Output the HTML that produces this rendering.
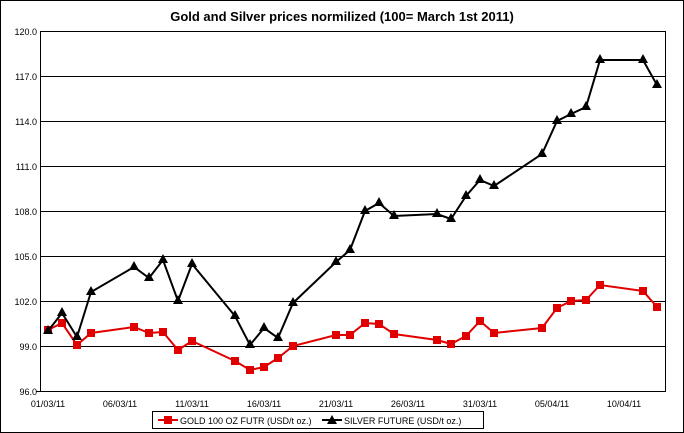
<!DOCTYPE html>
<html><head><meta charset="utf-8"><style>
body{margin:0;background:#fff;}
svg{display:block;font-family:"Liberation Sans",Arial,sans-serif;}
</style></head><body>
<svg width="684" height="433" viewBox="0 0 684 433" xmlns="http://www.w3.org/2000/svg">
<rect x="0.5" y="0.5" width="683" height="432" fill="#fff" stroke="#000"/>
<text x="342" y="21" text-anchor="middle" font-size="13" font-weight="bold">Gold and Silver prices normilized (100= March 1st 2011)</text>
<g stroke="#000" stroke-width="1">
<line x1="40" y1="31.5" x2="666" y2="31.5"/>
<line x1="40" y1="76.5" x2="666" y2="76.5"/>
<line x1="40" y1="121.5" x2="666" y2="121.5"/>
<line x1="40" y1="166.5" x2="666" y2="166.5"/>
<line x1="40" y1="211.5" x2="666" y2="211.5"/>
<line x1="40" y1="256.5" x2="666" y2="256.5"/>
<line x1="40" y1="301.5" x2="666" y2="301.5"/>
<line x1="40" y1="346.5" x2="666" y2="346.5"/>
<rect x="40.5" y="31.5" width="625" height="360" fill="none"/>
<line x1="36" y1="391.5" x2="40" y2="391.5"/>
</g>
<g font-size="9" text-anchor="end" fill="#000">
<text x="37" y="35">120.0</text><text x="37" y="80">117.0</text><text x="37" y="125">114.0</text>
<text x="37" y="170">111.0</text><text x="37" y="215">108.0</text><text x="37" y="260">105.0</text>
<text x="37" y="305">102.0</text><text x="37" y="350">99.0</text><text x="37" y="395">96.0</text>
</g>
<g font-size="9" text-anchor="middle" fill="#000">
<text x="48" y="407">01/03/11</text><text x="120" y="407">06/03/11</text><text x="192" y="407">11/03/11</text>
<text x="264" y="407">16/03/11</text><text x="336" y="407">21/03/11</text><text x="408" y="407">26/03/11</text>
<text x="480" y="407">31/03/11</text><text x="552" y="407">05/04/11</text><text x="624" y="407">10/04/11</text>
</g>
<polyline fill="none" stroke="#e00000" stroke-width="2" points="48,330 62,323 77,345 91,333 134,327 149,333 163,332 178,350 192,341 235,361 250,370 264,367 278,358 293,346 336,335 350,335 365,323 379,324 394,334 437,340 451,344 466,336 480,321 494,333 542,328 557,308 571,301 586,300 600,285 643,291 657,307"/>
<g fill="#e00000">
<rect x="44" y="326" width="8" height="8"/><rect x="58" y="319" width="8" height="8"/><rect x="73" y="341" width="8" height="8"/><rect x="87" y="329" width="8" height="8"/><rect x="130" y="323" width="8" height="8"/><rect x="145" y="329" width="8" height="8"/><rect x="159" y="328" width="8" height="8"/><rect x="174" y="346" width="8" height="8"/><rect x="188" y="337" width="8" height="8"/><rect x="231" y="357" width="8" height="8"/><rect x="246" y="366" width="8" height="8"/><rect x="260" y="363" width="8" height="8"/><rect x="274" y="354" width="8" height="8"/><rect x="289" y="342" width="8" height="8"/><rect x="332" y="331" width="8" height="8"/><rect x="346" y="331" width="8" height="8"/><rect x="361" y="319" width="8" height="8"/><rect x="375" y="320" width="8" height="8"/><rect x="390" y="330" width="8" height="8"/><rect x="433" y="336" width="8" height="8"/><rect x="447" y="340" width="8" height="8"/><rect x="462" y="332" width="8" height="8"/><rect x="476" y="317" width="8" height="8"/><rect x="490" y="329" width="8" height="8"/><rect x="538" y="324" width="8" height="8"/><rect x="553" y="304" width="8" height="8"/><rect x="567" y="297" width="8" height="8"/><rect x="582" y="296" width="8" height="8"/><rect x="596" y="281" width="8" height="8"/><rect x="639" y="287" width="8" height="8"/><rect x="653" y="303" width="8" height="8"/>
</g>
<polyline id="s" fill="none" stroke="#000" stroke-width="2" points="48,331 62,313 77,337 91,292 134,267 149,278 163,260 178,301 192,264 235,316 250,345 264,328 278,338 293,303 336,262 350,250 365,211 379,203 394,216 437,214 451,219 466,196 480,180 494,186 542,154 557,121 571,114 586,107 600,60 643,60 657,85"/>
<g fill="#000">
<path d="M48,325l-5,9h10z M62,307l-5,9h10z M77,331l-5,9h10z M91,286l-5,9h10z M134,261l-5,9h10z M149,272l-5,9h10z M163,254l-5,9h10z M178,295l-5,9h10z M192,258l-5,9h10z M235,310l-5,9h10z M250,339l-5,9h10z M264,322l-5,9h10z M278,332l-5,9h10z M293,297l-5,9h10z M336,256l-5,9h10z M350,244l-5,9h10z M365,205l-5,9h10z M379,197l-5,9h10z M394,210l-5,9h10z M437,208l-5,9h10z M451,213l-5,9h10z M466,190l-5,9h10z M480,174l-5,9h10z M494,180l-5,9h10z M542,148l-5,9h10z M557,115l-5,9h10z M571,108l-5,9h10z M586,101l-5,9h10z M600,54l-5,9h10z M643,54l-5,9h10z M657,79l-5,9h10z"/>
</g>
<rect x="152.5" y="411.5" width="331" height="17" fill="#fff" stroke="#000"/>
<line x1="158" y1="420" x2="178" y2="420" stroke="#e00000" stroke-width="2"/>
<rect x="164" y="416" width="8" height="8" fill="#e00000"/>
<text x="180" y="424" font-size="9">GOLD 100 OZ FUTR (USD/t oz.)</text>
<line x1="322" y1="420" x2="342" y2="420" stroke="#000" stroke-width="2"/>
<path d="M332,415l-5,9h10z" fill="#000"/>
<text x="344" y="424" font-size="9">SILVER FUTURE (USD/t oz.)</text>
</svg>
</body></html>
